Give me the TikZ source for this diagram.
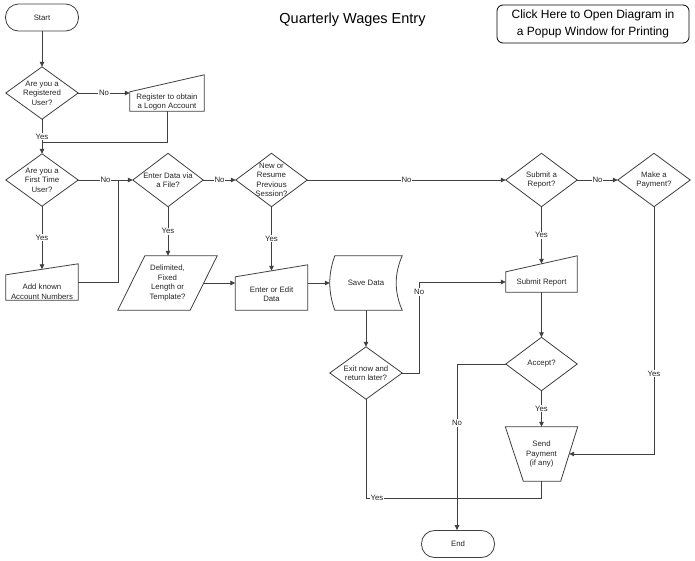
\documentclass[tikz,border=0pt]{standalone}
\usepackage{fontspec}
\setmainfont{Liberation Sans}
\usetikzlibrary{arrows.meta,calc}
\begin{document}
\begin{tikzpicture}[x=1pt,y=-1pt,
  every node/.style={font=\fontsize{7.8}{9.5}\selectfont, text=black!85, inner sep=0pt},
  ln/.style={draw=black!75, line width=0.8pt},
  arr/.style={ln, -{Triangle[length=5pt,width=4.5pt]}},
  lbl/.style={fill=white, inner sep=1pt},
  shp/.style 2 args={minimum width=#1, minimum height=#2, align=center},
  term/.style={ln, rounded corners=13pt, minimum width=73pt, minimum height=27pt},
  txt/.style={align=center}]
\fill[white] (0,0) rectangle (695,560);
\useasboundingbox (0,0) rectangle (695,560);

% title and button
\node[font=\fontsize{14.5}{17}\selectfont, text=black] (title) at (352.5,20) {Quarterly Wages Entry};
\node[draw=black, line width=0.8pt, rounded corners=6pt, minimum width=192pt, minimum height=38pt,
      align=center, font=\fontsize{12}{16.5}\selectfont, text=black] (btn) at (593,24)
      {Click Here to Open Diagram in\\a Popup Window for Printing};

% terminals
\node[term] (start) at (42,17.5) {Start};
\node[term] (end) at (458,544) {End};

% decisions
\node[shp={72pt}{52pt}] (d1) at (42,93) {Are you a\\Registered\\User?};
\node[shp={72pt}{52pt}] (d2) at (42,180) {Are you a\\First Time\\User?};
\node[shp={70pt}{53pt}] (d3) at (168,180) {Enter Data via\\a File?};
\node[shp={71pt}{53pt}] (d4) at (271.5,180) {New or\\Resume\\Previous\\Session?};
\node[shp={72pt}{52pt}] (d5) at (366,373) {Exit now and\\return later?};
\node[shp={71pt}{53pt}] (d6) at (541.5,180) {Submit a\\Report?};
\node[shp={72pt}{53pt}] (d7) at (654,180) {Make a\\Payment?};
\node[shp={71pt}{53pt}] (d8) at (541.5,364) {Accept?};
\foreach \n in {d1,d2,d3,d4,d5,d6,d7,d8}
  \draw[ln] (\n.north) -- (\n.east) -- (\n.south) -- (\n.west) -- cycle;

% manual inputs
\node[shp={74pt}{36pt}] (reg) at (167,93) {};
\node[txt] (regt) at ([shift={(0,9)}]reg.center) {Register to obtain\\a Logon Account};
\draw[ln] (reg.south west) -- ([shift={(0,17)}]reg.north west) -- (reg.north east) -- (reg.south east) -- cycle;

\node[shp={72pt}{36pt}] (addk) at (42,282) {};
\node[txt] (addkt) at ([shift={(0,9.5)}]addk.center) {Add known\\Account Numbers};
\draw[ln] (addk.south west) -- ([shift={(0,11)}]addk.north west) -- (addk.north east) -- (addk.south east) -- cycle;

\node[shp={72pt}{45pt}] (edit) at (271.5,287.5) {};
\node[txt] (editt) at ([shift={(0,6.5)}]edit.center) {Enter or Edit\\Data};
\draw[ln] (edit.south west) -- ([shift={(0,12)}]edit.north west) -- (edit.north east) -- (edit.south east) -- cycle;

\node[shp={71pt}{36pt}] (sub) at (541.5,274) {};
\node[txt] (subt) at ([shift={(0,8)}]sub.center) {Submit Report};
\draw[ln] (sub.south west) -- ([shift={(0,16)}]sub.north west) -- (sub.north east) -- (sub.south east) -- cycle;

% parallelogram
\node[shp={99pt}{54pt}] (par) at (167.5,283) {Delimited,\\Fixed\\Length or\\Template?};
\draw[ln] ([shift={(27,0)}]par.north west) -- (par.north east) -- ([shift={(-27,0)}]par.south east) -- (par.south west) -- cycle;

% stored data
\node[shp={72pt}{54pt}] (save) at (366,283) {Save Data};
\draw[ln] ([shift={(5,0)}]save.north west) -- (save.north east)
  .. controls ([shift={(-8,18)}]save.north east) and ([shift={(-8,-18)}]save.south east) .. (save.south east)
  -- ([shift={(5,0)}]save.south west)
  .. controls ([shift={(-1.7,-18)}]save.south west) and ([shift={(-1.7,18)}]save.north west) .. ([shift={(5,0)}]save.north west) -- cycle;

% manual operation
\node[shp={72pt}{54pt}] (pay) at (541.5,454) {Send\\Payment\\(if any)};
\draw[ln] (pay.north west) -- (pay.north east) -- ([shift={(-17,0)}]pay.south east) -- ([shift={(18,0)}]pay.south west) -- cycle;

% connectors
\draw[arr] (start.south) -- (d1.north);
\draw[arr] (d1.east) -- node[lbl]{No} (d1.east -| reg.west);
\draw[arr] (d1.south) -- node[lbl]{Yes} (d2.north);
\draw[ln] (reg.south) |- ([shift={(0,-11)}]d2.north);
\draw[arr] (d2.east) -- node[lbl]{No} (d3.west);
\draw[arr] (d2.south) -- node[lbl]{Yes} ([shift={(0,5.5)}]addk.north);
\draw[ln] (addk.east) -| ([shift={(40,0)}]d2.east);
\draw[arr] (d3.east) -- node[lbl]{No} (d4.west);
\draw[arr] (d3.south) -- node[lbl]{Yes} (d3.south |- par.north);
\draw[arr] (d4.east) -- node[lbl]{No} (d6.west);
\draw[arr] (d4.south) -- node[lbl]{Yes} ([shift={(0,6)}]edit.north);
\draw[arr] ([shift={(-13.5,0)}]par.east) -- (par.east -| edit.west);
\draw[arr] (save.west -| edit.east) -- (save.west);
\draw[arr] (save.south) -- (d5.north);
\draw[arr] (d5.east) -- ++(17,0) |- node[lbl,pos=0.445]{No} ([shift={(0,8)}]sub.west);
\draw[ln] (d5.south) |- node[lbl,pos=0.531]{Yes} ([shift={(0,17)}]pay.south) -- (pay.south);
\draw[arr] (d6.south) -- node[lbl]{Yes} ([shift={(0,8)}]sub.north);
\draw[arr] (d6.east) -- node[lbl]{No} (d7.west);
\draw[arr] (d7.south) |- node[lbl,pos=0.337]{Yes} ([shift={(-8.5,0)}]pay.east);
\draw[arr] (sub.south) -- (d8.north);
\draw[arr] (d8.south) -- node[lbl]{Yes} (pay.north);
\draw[arr] (d8.west) -| node[lbl,pos=0.677]{No} ([shift={(-1,0)}]end.north);
\end{tikzpicture}
\end{document}
